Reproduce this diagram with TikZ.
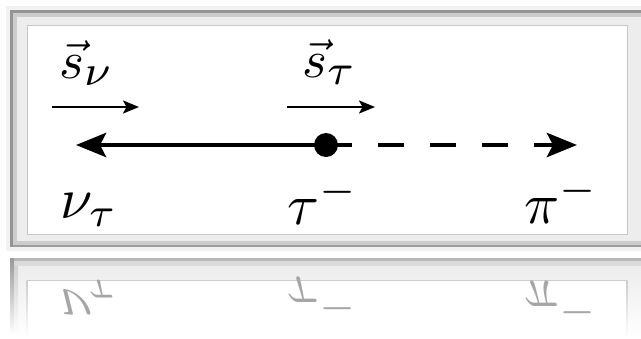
\documentclass[tikz,border=0pt]{standalone}
\usepackage{graphicx}
\usetikzlibrary{arrows.meta}
\newcommand\bigsub[1]{\scalebox{1.15}{$\scriptstyle #1$}}
\begin{document}
\begin{tikzpicture}[x=1pt,y=-1pt,
  lbl/.style={inner sep=0pt, anchor=base west},
  big/.style={lbl, scale=5.8, transform shape},
  mid/.style={lbl, scale=5.3, transform shape},
  refl/.style={big, text=black!35, yscale=-1},
  spinarrow/.style={line width=2.4pt, -{Stealth[length=16pt,width=13pt,inset=3.5pt]}},
  track/.style={line width=4.7pt, -{Stealth[length=30pt,width=24pt,inset=6pt]}},
  dashtrack/.style={track, dash pattern=on 26pt off 26pt},
  vertex/.style={circle, fill=black, inner sep=0pt, minimum size=24pt}]
\useasboundingbox (0,0) rectangle (641,338);
\fill[white] (0,0) rectangle (641,338);
% ---------- main frame ----------
\fill[black!5] (6,6) rectangle (645,251);
\fill[black!7] (10,10) rectangle (660,247);
\fill[black!20] (10,241) rectangle (660,247);
\fill[black!38] (10,245) rectangle (660,247);
\fill[black!42] (10,10) rectangle (13,247);
\fill[black!42] (10,10) rectangle (660,13);
\fill[black!20] (13,13) rectangle (17,245);
\fill[black!20] (13,13) rectangle (660,17);
\filldraw[fill=white, draw=black!22, line width=1pt] (27,25) rectangle (627,234);
% ---------- reflection ----------
\shade[top color=black!8, bottom color=white] (10,258) rectangle (660,338);
\fill[black!28] (10,258) rectangle (660,261);
\fill[black!14] (10,261) rectangle (660,266);
\shade[top color=black!40, bottom color=white] (10,258) rectangle (14,335);
\shade[top color=black!18, bottom color=white] (14,266) rectangle (18,335);
\fill[white] (27,280) rectangle (627,338);
\shade[top color=black!20, bottom color=white] (26.5,280) rectangle (27.5,338);
\shade[top color=black!20, bottom color=white] (626.5,280) rectangle (627.5,338);
\draw[black!20, line width=1pt] (27,280) -- (627,280);
\node[refl] (rnu) at (59,289) {$\nu_\tau$};
\node[refl] (rtau) at (286,277) {$\tau^-$};
\node[refl] (rpi) at (523,281) {$\pi^-$};
% ---------- spin labels and arrows ----------
\node[mid] (snu) at (58,78) {$\vec{s}_{\bigsub{\nu}}$};
\node[mid] (stau) at (301,77) {$\vec{s}_{\bigsub{\tau}}$};
\coordinate (a1s) at (52,107);
\coordinate (a1e) at (139,107);
\coordinate (a2s) at (287,107);
\coordinate (a2e) at (375,107);
\draw[spinarrow] (a1s) -- (a1e);
\draw[spinarrow] (a2s) -- (a2e);
% ---------- decay line ----------
\node[vertex] (tau) at (326,145) {};
\coordinate (ltip) at (76,145);
\coordinate (rtip) at (577,145);
\draw[track] (tau.center) -- (ltip);
\draw[dashtrack] (tau.center) -- (rtip);
% ---------- particle labels ----------
\node[big] (nutau) at (59,218) {$\nu_\tau$};
\node[big] (taum) at (286,224) {$\tau^-$};
\node[big] (pim) at (523,223) {$\pi^-$};
\end{tikzpicture}
\end{document}
